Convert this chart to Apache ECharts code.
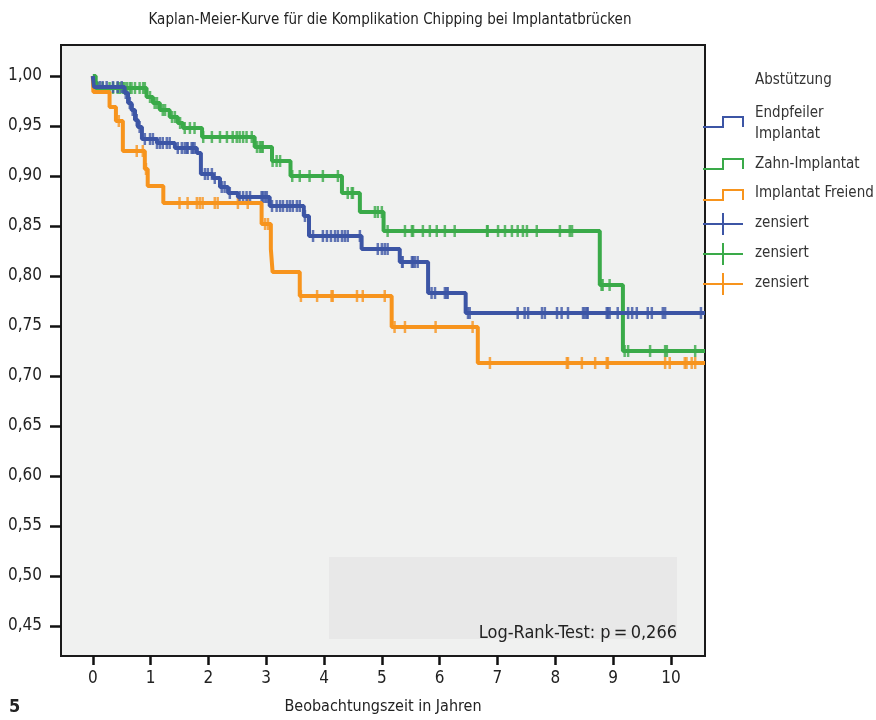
<!DOCTYPE html>
<html>
<head>
<meta charset="utf-8">
<script src="https://cdn.jsdelivr.net/npm/echarts@6/dist/echarts.min.js"></script>
<style>
  html, body { margin: 0; padding: 0; background: #fff; }
  #chart { width: 876px; height: 720px; }
</style>
</head>
<body>
<div id="chart"></div>
<script>
// Kaplan-Meier steps: time (years) and survival after each event
const blueTimes = [0, 0.02, 0.55, 0.61, 0.67, 0.73, 0.78, 0.85, 1.11, 1.42, 1.80, 1.87, 2.08, 2.20, 2.34, 2.51, 3.06, 3.65, 3.74, 4.65, 5.31, 5.80, 6.45];
const blueSurv  = [1.0, 0.989, 0.983, 0.973, 0.966, 0.956, 0.949, 0.937, 0.933, 0.928, 0.923, 0.902, 0.898, 0.889, 0.883, 0.879, 0.870, 0.860, 0.840, 0.827, 0.814, 0.783, 0.763];
const greenTimes = [0, 0.05, 0.93, 1.04, 1.16, 1.33, 1.47, 1.56, 1.89, 2.80, 3.10, 3.42, 4.31, 4.62, 5.03, 8.77, 9.17];
const greenSurv  = [1.0, 0.988, 0.979, 0.973, 0.966, 0.959, 0.953, 0.948, 0.939, 0.929, 0.915, 0.900, 0.883, 0.864, 0.845, 0.791, 0.725];
const orangeTimes = [0, 0.01, 0.29, 0.40, 0.52, 0.90, 0.95, 1.22, 2.92, 3.08, 3.11, 3.58, 5.17, 6.66];
const orangeSurv  = [1.0, 0.984, 0.969, 0.955, 0.925, 0.907, 0.890, 0.873, 0.852, 0.827, 0.804, 0.780, 0.749, 0.713];

// censored observations (time in years)
const blueCensored = [0.07, 0.12, 0.17, 0.24, 0.35, 0.43, 0.50, 0.57, 0.64, 0.69, 0.76, 0.81, 0.90, 0.99, 1.04, 1.11,
  1.16, 1.21, 1.28, 1.33, 1.47, 1.54, 1.59, 1.63, 1.64, 1.71, 1.73, 1.76, 1.94, 1.99, 2.06, 2.11, 2.23, 2.28, 2.37,
  2.54, 2.60, 2.66, 2.72, 2.92, 2.94, 2.98, 3.01, 3.10, 3.18, 3.24, 3.29, 3.36, 3.41, 3.46, 3.53, 3.58, 3.67,
  3.81, 3.98, 4.05, 4.12, 4.19, 4.24, 4.31, 4.36, 4.41, 4.62, 4.93, 5.00, 5.05, 5.10, 5.35, 5.36, 5.52, 5.54, 5.57, 5.62,
  5.86, 5.92, 6.09, 6.12, 6.14, 6.49, 6.52, 7.35, 7.47, 7.53, 7.77, 7.82, 8.03, 8.11, 8.22, 8.48, 8.51, 8.55, 8.56,
  8.89, 8.91, 8.94, 9.08, 9.26, 9.33, 9.41, 9.60, 9.67, 9.86, 9.90, 10.52];
const greenCensored = [0.09, 0.17, 0.29, 0.35, 0.43, 0.47, 0.52, 0.55, 0.59, 0.64, 0.67, 0.73, 0.81, 0.87, 0.90,
  0.99, 1.07, 1.11, 1.21, 1.25, 1.37, 1.42, 1.51, 1.59, 1.68, 1.76, 1.91, 2.06, 2.20, 2.32, 2.42, 2.49, 2.54, 2.60,
  2.66, 2.75, 2.84, 2.89, 2.92, 2.94, 3.11, 3.18, 3.24, 3.45, 3.58, 3.75, 3.98, 4.24, 4.41, 4.48, 4.50, 4.88, 4.93,
  5.00, 5.10, 5.40, 5.52, 5.54, 5.71, 5.83, 5.95, 6.09, 6.26, 6.82, 6.83, 7.01, 7.13, 7.25, 7.35, 7.44, 7.51, 7.68,
  8.08, 8.25, 8.29, 8.80, 8.82, 8.94, 9.20, 9.26, 9.64, 9.90, 9.93, 10.42];
const orangeCensored = [0.45, 0.76, 0.865, 0.92, 1.50, 1.64, 1.80, 1.85, 1.90, 2.11, 2.16, 2.51, 2.68, 2.98, 3.03,
  3.60, 3.88, 4.13, 4.15, 4.57, 4.67, 5.05, 5.22, 5.40, 5.93, 6.57, 6.87, 8.20, 8.22, 8.46, 8.69, 8.89, 8.91,
  9.90, 9.98, 10.24, 10.27, 10.36, 10.42];

const xTicks = [0, 1, 2, 3, 4, 5, 6, 7, 8, 9, 10];
const yTicks = [0.45, 0.50, 0.55, 0.60, 0.65, 0.70, 0.75, 0.80, 0.85, 0.90, 0.95, 1.00];

const xMin = -0.55, xMax = 10.59;
const yMin = 0.42, yMax = 1.031;

const BLUE = '#3c55a5';
const GREEN = '#3aaa49';
const ORANGE = '#f7941d';
const FONT = '"Liberation Sans Narrow", "DejaVu Sans Condensed", sans-serif';

function stepData(times, surv) {
  const d = times.map((t, i) => [t, surv[i]]);
  d.push([xMax, surv[surv.length - 1]]);
  return d;
}

// survival level at a given time, for placing censor marks on the curve
function levelAt(times, surv, t) {
  let v = surv[0];
  for (let i = 0; i < times.length; i++) {
    if (times[i] <= t) v = surv[i];
  }
  return v;
}

function censorData(times, surv, cens) {
  return cens.map(t => [t, levelAt(times, surv, t)]);
}

function curve(name, times, surv, color) {
  return {
    name: name,
    type: 'line',
    step: 'end',
    showSymbol: false,
    data: stepData(times, surv),
    lineStyle: { color: color, width: 4 },
    itemStyle: { color: color },
    silent: true
  };
}

function censor(times, surv, cens, color) {
  return {
    type: 'scatter',
    symbol: 'rect',
    symbolSize: [2.5, 12],
    data: censorData(times, surv, cens),
    itemStyle: { color: color },
    silent: true
  };
}

const chart = echarts.init(document.getElementById('chart'));

const legendItems = [];
function stepIcon(y, color) {
  legendItems.push({
    type: 'polyline',
    shape: { points: [[703, y], [723, y], [723, y - 10], [743, y - 10], [743, y]] },
    style: { stroke: color, lineWidth: 2, fill: null }
  });
}
function crossIcon(y, color) {
  legendItems.push({
    type: 'line', shape: { x1: 703, y1: y, x2: 743, y2: y },
    style: { stroke: color, lineWidth: 2 }
  });
  legendItems.push({
    type: 'line', shape: { x1: 723, y1: y - 11, x2: 723, y2: y + 11 },
    style: { stroke: color, lineWidth: 2 }
  });
}
function legendText(y, text) {
  legendItems.push({
    type: 'text', left: 755, top: y - 9,
    style: { text: text, font: '15px ' + FONT, fill: '#333' }
  });
}

stepIcon(127, BLUE);
stepIcon(169, GREEN);
stepIcon(200, ORANGE);
crossIcon(224, BLUE);
crossIcon(254, GREEN);
crossIcon(284, ORANGE);
legendText(82, 'Abstützung');
legendText(115, 'Endpfeiler');
legendText(136, 'Implantat');
legendText(166, 'Zahn-Implantat');
legendText(195, 'Implantat Freiend');
legendText(225, 'zensiert');
legendText(255, 'zensiert');
legendText(285, 'zensiert');

const option = {
  animation: false,
  backgroundColor: '#fff',
  title: {
    text: 'Kaplan-Meier-Kurve für die Komplikation Chipping bei Implantatbrücken',
    left: 385,
    top: 8,
    textAlign: 'center',
    textStyle: { fontFamily: FONT, fontSize: 15, fontWeight: 'normal', color: '#222' }
  },
  grid: {
    left: 61, right: 171, top: 45, bottom: 61,
    show: true,
    backgroundColor: '#f0f1f0',
    borderColor: '#1a1a1a',
    borderWidth: 2
  },
  xAxis: {
    type: 'value',
    min: xMin,
    max: xMax,
    name: 'Beobachtungszeit in Jahren',
    nameLocation: 'middle',
    nameGap: 43,
    nameTextStyle: { fontFamily: FONT, fontSize: 16, color: '#222' },
    axisLine: { show: false, onZero: false },
    splitLine: { show: false },
    axisTick: {
      customValues: xTicks,
      length: 9,
      lineStyle: { color: '#111', width: 2.5 }
    },
    axisLabel: {
      customValues: xTicks,
      margin: 14,
      fontFamily: FONT,
      fontSize: 17,
      color: '#222'
    }
  },
  yAxis: {
    type: 'value',
    min: yMin,
    max: yMax,
    axisLine: { show: false, onZero: false },
    splitLine: { show: false },
    axisTick: {
      customValues: yTicks,
      length: 11,
      lineStyle: { color: '#111', width: 2.5 }
    },
    axisLabel: {
      customValues: yTicks,
      margin: 19,
      fontFamily: FONT,
      fontSize: 17,
      color: '#222',
      formatter: v => v.toFixed(2).replace('.', ',')
    }
  },
  graphic: [
    {
      type: 'rect',
      shape: { x: 329, y: 557, width: 348, height: 82 },
      style: { fill: '#e8e8e8' },
      z: 0
    },
    {
      type: 'text',
      x: 677,
      y: 633,
      style: {
        text: 'Log-Rank-Test: p\u2009=\u20090,266',
        font: '18px ' + FONT,
        fill: '#222',
        align: 'right',
        verticalAlign: 'middle'
      },
      z: 1
    },
    {
      type: 'text',
      left: 9,
      top: 698,
      style: { text: '5', font: 'bold 18px ' + FONT, fill: '#222' }
    }
  ].concat(legendItems),
  series: [
    curve('Implantat Freiend', orangeTimes, orangeSurv, ORANGE),
    censor(orangeTimes, orangeSurv, orangeCensored, ORANGE),
    curve('Zahn-Implantat', greenTimes, greenSurv, GREEN),
    censor(greenTimes, greenSurv, greenCensored, GREEN),
    curve('Endpfeiler Implantat', blueTimes, blueSurv, BLUE),
    censor(blueTimes, blueSurv, blueCensored, BLUE)
  ]
};

chart.setOption(option);
</script>
</body>
</html>
